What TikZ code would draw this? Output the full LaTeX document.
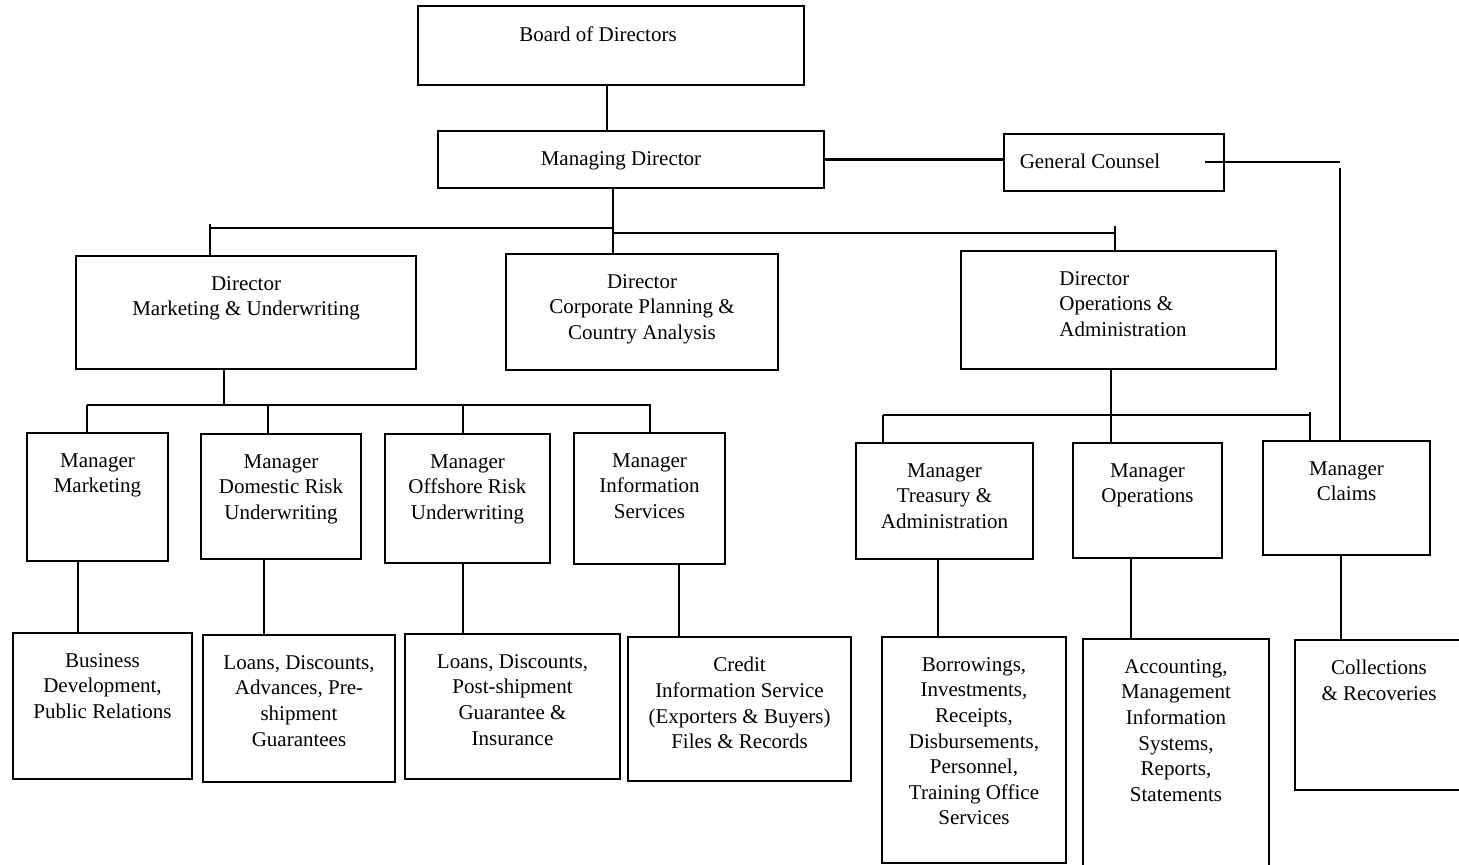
\documentclass[tikz,border=0pt]{standalone}
\usepackage{fontspec}
\setmainfont{Liberation Serif}

\begin{document}
\begin{tikzpicture}[x=0.5pt,y=-0.5pt,
        unit/.style={draw,line width=1pt,inner sep=0pt,anchor=north west},
        lbl/.style={anchor=north,yshift=-10.5pt},
        every label/.style={align=center,inner sep=0pt,
          font=\fontsize{10.5}{12.8}\selectfont},
        wire/.style={line width=1.2pt}]

  \useasboundingbox (0,0) rectangle (1459,865);
  \clip (0,0) rectangle (1459,865);

  \node[unit,minimum width=193pt,minimum height=39.5pt,
        label={[lbl,xshift=-6.5pt]north:Board of Directors}] (bod) at (417,5) {};
  \node[unit,minimum width=193pt,minimum height=28.5pt,
        label={[lbl,xshift=-5pt]north:Managing Director}] (md) at (437,130) {};
  \node[unit,minimum width=110pt,minimum height=28.5pt,
        label={[lbl,xshift=-12pt]north:General Counsel}] (gc) at (1003,133) {};

  \node[unit,minimum width=170pt,minimum height=56.5pt,
        label={[lbl]north:Director\\Marketing \& Underwriting}] (dmu) at (75,255) {};
  \node[unit,minimum width=136pt,minimum height=58pt,
        label={[lbl]north:Director\\Corporate Planning \&\\Country Analysis}] (dcp) at (505,253) {};
  \node[unit,minimum width=157.5pt,minimum height=59pt,
        label={[lbl,anchor=north west,align=left,xshift=-29.75pt]north:Director\\Operations \&\\Administration}] (doa) at (960,250) {};

  \node[unit,minimum width=70.5pt,minimum height=64pt,
        label={[lbl]north:Manager\\Marketing}] (mmk) at (26,432) {};
  \node[unit,minimum width=80pt,minimum height=62.5pt,
        label={[lbl]north:Manager\\Domestic Risk\\Underwriting}] (mdr) at (200,433) {};
  \node[unit,minimum width=82.5pt,minimum height=64.5pt,
        label={[lbl]north:Manager\\Offshore Risk\\Underwriting}] (mor) at (384,433) {};
  \node[unit,minimum width=75.5pt,minimum height=65.5pt,
        label={[lbl]north:Manager\\Information\\Services}] (mis) at (573,432) {};
  \node[unit,minimum width=88.5pt,minimum height=58pt,
        label={[lbl]north:Manager\\Treasury \&\\Administration}] (mta) at (855,442) {};
  \node[unit,minimum width=74.5pt,minimum height=57.5pt,
        label={[lbl]north:Manager\\Operations}] (mop) at (1072,442) {};
  \node[unit,minimum width=83.5pt,minimum height=57pt,
        label={[lbl]north:Manager\\Claims}] (mcl) at (1262,440) {};

  \node[unit,minimum width=89.5pt,minimum height=73pt,
        label={[lbl]north:Business\\Development,\\Public Relations}] (bd) at (12,632) {};
  \node[unit,minimum width=96pt,minimum height=73.5pt,
        label={[lbl]north:Loans, Discounts,\\Advances, Pre-\\shipment\\Guarantees}] (ldd) at (202,634) {};
  \node[unit,minimum width=107.5pt,minimum height=72.5pt,
        label={[lbl]north:Loans, Discounts,\\Post-shipment\\Guarantee \&\\Insurance}] (ldo) at (404,633) {};
  \node[unit,minimum width=111.5pt,minimum height=72pt,
        label={[lbl]north:Credit\\Information Service\\(Exporters \& Buyers)\\Files \& Records}] (cis) at (627,636) {};
  \node[unit,minimum width=92pt,minimum height=113pt,
        label={[lbl]north:Borrowings,\\Investments,\\Receipts,\\Disbursements,\\Personnel,\\Training Office\\Services}] (bor) at (881,636) {};
  \node[unit,minimum width=93pt,minimum height=116pt,
        label={[lbl]north:Accounting,\\Management\\Information\\Systems,\\Reports,\\Statements}] (acc) at (1082,638) {};
  \node[unit,minimum width=84pt,minimum height=75pt,
        label={[lbl]north:Collections\\\& Recoveries}] (col) at (1294,639) {};

  \coordinate (hub) at (613,228);
  \coordinate (barL) at (210,228);
  \coordinate (barR) at (1115,233);
  \coordinate (mbar) at (224,405);
  \coordinate (obar) at (1111,415);
  \coordinate (gcr) at (1340,162);

  \draw[wire] (bod.south -| 607,0) -- (md.north -| 607,0);
  \draw[wire] (hub |- md.south) -- (hub |- dcp.north);
  \draw[wire] (barL) -- (hub);
  \draw[wire] ([yshift=2pt]barL) -- (barL |- dmu.north);
  \draw[wire] (hub |- barR) -- (barR);
  \draw[wire] ([yshift=3.5pt]barR) -- (barR |- doa.north);
  \draw[wire] (md.east) -- (md.east -| gc.west);
  \draw[wire] ([xshift=-10pt]gc.east |- gcr) -- (gcr);
  \draw[wire] ([yshift=-3pt]gcr) -- (gcr |- mcl.north);

  \draw[wire] (mbar |- dmu.south) -- (mbar);
  \draw[wire] (mbar -| 87,0) -- (mbar -| 651,0);
  \foreach \x/\n in {87/mmk,268/mdr,463/mor,650/mis}
    \draw[wire] (mbar -| \x,0) -- (\n.north -| \x,0);

  \draw[wire] (obar |- doa.south) -- (obar |- mop.north);
  \draw[wire] (obar -| 883,0) -- (obar -| 1310,0);
  \draw[wire] (obar -| 883,0) -- (mta.north -| 883,0);
  \draw[wire] ([yshift=1.5pt]obar -| 1310,0) -- (mcl.north -| 1310,0);

  \foreach \x/\a/\b in {78/mmk/bd,264/mdr/ldd,463/mor/ldo,679/mis/cis,
                        938/mta/bor,1131/mop/acc,1341/mcl/col}
    \draw[wire] (\a.south -| \x,0) -- (\b.north -| \x,0);

\end{tikzpicture}
\end{document}
